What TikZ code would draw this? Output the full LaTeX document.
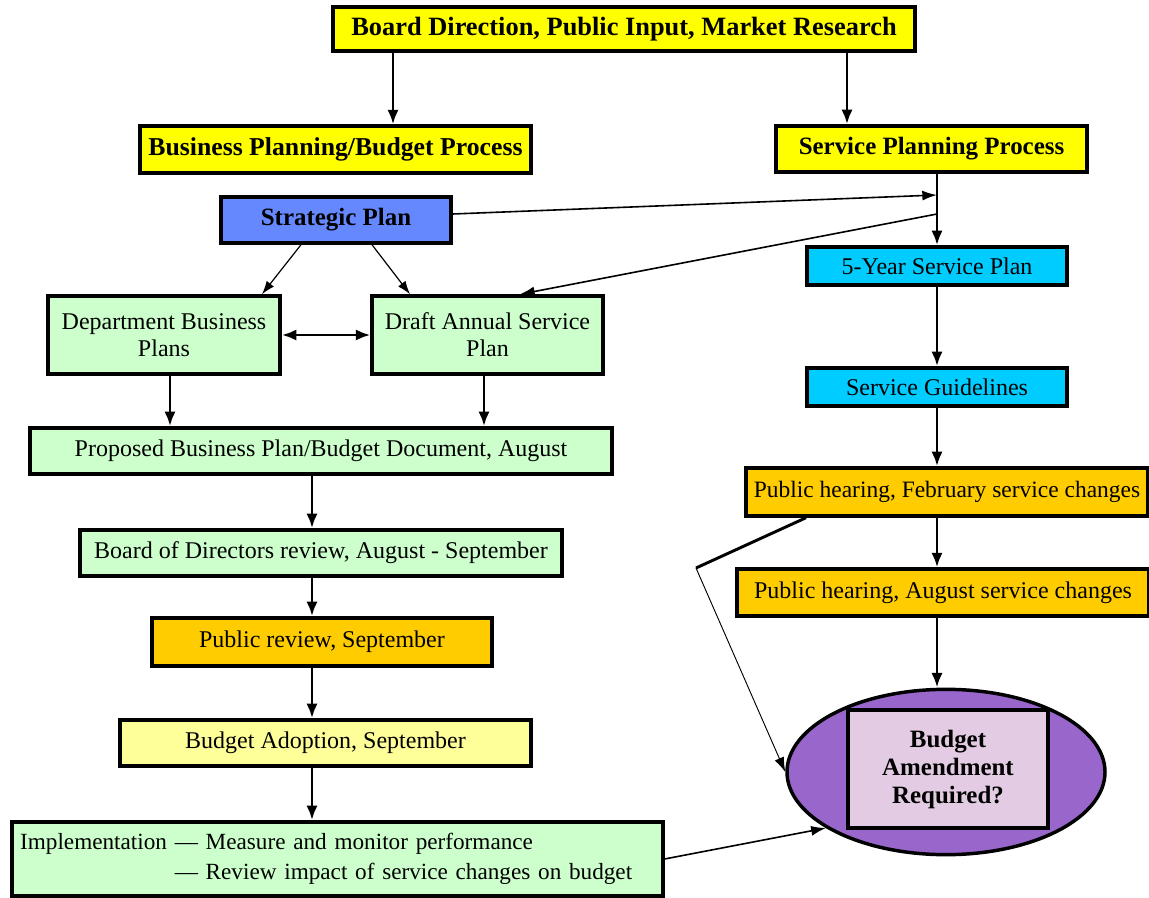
\documentclass[tikz,border=0pt]{standalone}
\usepackage{fontspec}
\setmainfont{Liberation Serif}
\usetikzlibrary{arrows.meta,shapes.geometric}
\definecolor{cyel}{HTML}{FFFF00}
\definecolor{cblue}{HTML}{6688FF}
\definecolor{cgreen}{HTML}{CCFFCC}
\definecolor{ccyan}{HTML}{00CCFF}
\definecolor{corange}{HTML}{FFCC00}
\definecolor{clyel}{HTML}{FFFF99}
\definecolor{cpurple}{HTML}{9966CC}
\definecolor{clilac}{HTML}{E3CCE3}
\tikzset{
  box/.style={draw, line width=2.6pt, inner sep=0pt, align=center, font=\fontsize{18}{20}\selectfont},
  bbox/.style={box, font=\fontsize{18.7}{20}\selectfont\bfseries},
  arr/.style={line width=2.2pt, -{Latex[length=11pt,width=8.5pt]}},
  tarr/.style={line width=1.2pt, -{Latex[length=11pt,width=7.5pt]}},
  harr/.style={line width=0.7pt, -{Latex[length=11pt,width=7.5pt]}},
}
\begin{document}
\begin{tikzpicture}[x=0.75pt,y=-0.75pt]
\useasboundingbox (0,0) rectangle (1149,898);
% nodes
\node[bbox, fill=cyel, minimum width=436.5pt, minimum height=33pt, font=\fontsize{19.8}{21}\selectfont\bfseries] (top) at (624,29) {Board Direction, Public Input, Market Research};
\node[bbox, fill=cyel, minimum width=293pt, minimum height=35pt, font=\fontsize{19.3}{21}\selectfont\bfseries] (bus) at (335.5,149.5) {Business Planning/Budget Process};
\node[bbox, fill=cyel, minimum width=233pt, minimum height=34.5pt] (svc) at (931.5,149) {Service Planning Process};
\node[bbox, fill=cblue, minimum width=172.5pt, minimum height=34.5pt] (strat) at (336,220) {Strategic Plan};
\node[box, fill=ccyan, minimum width=195pt, minimum height=28.5pt] (five) at (937,266) {5-Year Service Plan};
\node[box, fill=cgreen, minimum width=174pt, minimum height=58.5pt] (dept) at (164,335) {Department Business\\Plans};
\node[box, fill=cgreen, minimum width=173pt, minimum height=58.5pt] (draft) at (487.5,335) {Draft Annual Service\\Plan};
\node[box, fill=cgreen, minimum width=436.5pt, minimum height=34.5pt] (prop) at (321,451) {Proposed Business Plan/Budget Document, August};
\node[box, fill=ccyan, minimum width=195pt, minimum height=28.5pt] (guide) at (937,387) {Service Guidelines};
\node[box, fill=corange, minimum width=301.5pt, minimum height=36pt, font=\fontsize{17.6}{20}\selectfont] (feb) at (947,492) {Public hearing, February service changes};
\node[box, fill=cgreen, minimum width=361.5pt, minimum height=34.5pt] (board) at (321,553) {Board of Directors review, August - September};
\node[box, fill=corange, minimum width=309pt, minimum height=35pt] (aug) at (943,592.5) {Public hearing, August service changes};
\node[box, fill=corange, minimum width=255pt, minimum height=36pt] (prev) at (322,642) {Public review, September};
\node[box, fill=clyel, minimum width=308pt, minimum height=34.5pt] (adopt) at (325.5,743) {Budget Adoption, September};
\node[box, fill=cgreen, text width=476pt, inner xsep=6pt, minimum height=55.5pt, align=left, font=\fontsize{17.4}{20}\selectfont] (impl) at (337.5,859) {\begin{tabular}{@{}l@{ }l@{}}Implementation & --- Measure and monitor performance\\[2pt] & --- Review impact of service changes on budget\end{tabular}};
\node[ellipse, draw, line width=2.6pt, fill=cpurple, minimum width=238.5pt, minimum height=124pt, inner sep=0pt] (ell) at (946,772) {};
\node[bbox, fill=clilac, minimum width=150pt, minimum height=88.5pt, font=\fontsize{18.7}{21}\selectfont\bfseries] (amend) at (948,769) {Budget\\Amendment\\Required?};
% helper coordinates
\coordinate (x393) at (393,0);
\coordinate (x847) at (847,0);
\coordinate (x937) at (937,0);
\coordinate (x170) at (170,0);
\coordinate (x484) at (484,0);
\coordinate (x312) at (312,0);
\coordinate (j1) at (937,195);
\coordinate (j2) at (937,214);
\coordinate (x520) at (520,0);
\coordinate (x301) at (301,0);
\coordinate (x262) at (262,0);
\coordinate (x372) at (372,0);
\coordinate (x410) at (410,0);
\coordinate (x806) at (806,0);
\coordinate (bend) at (696,568);
% connectors
\draw[arr] (top.south -| x393) -- (bus.north -| x393);
\draw[arr] (top.south -| x847) -- (svc.north -| x847);
\draw[arr] (svc.south -| x937) -- (five.north -| x937);
\draw[tarr] (strat.east) ++(0,-6) -- (j1);
\draw[tarr] (j2) -- (draft.north -| x520);
\draw[line width=0.9pt, -{Latex[length=10pt,width=7pt]}] (strat.south -| x301) -- (dept.north -| x262);
\draw[line width=0.9pt, -{Latex[length=10pt,width=7pt]}] (strat.south -| x372) -- (draft.north -| x410);
\draw[line width=2.2pt, {Latex[length=11pt,width=8.5pt]}-{Latex[length=11pt,width=8.5pt]}] (dept.east) -- (draft.west);
\draw[arr] (dept.south -| x170) -- (prop.north -| x170);
\draw[arr] (draft.south -| x484) -- (prop.north -| x484);
\draw[arr] (prop.south -| x312) -- (board.north -| x312);
\draw[arr] (board.south -| x312) -- (prev.north -| x312);
\draw[arr] (prev.south -| x312) -- (adopt.north -| x312);
\draw[arr] (adopt.south -| x312) -- (impl.north -| x312);
\draw[arr] (five.south -| x937) -- (guide.north -| x937);
\draw[arr] (guide.south -| x937) -- (feb.north -| x937);
\draw[arr] (feb.south -| x937) -- (aug.north -| x937);
\draw[arr] (aug.south -| x937) -- (ell.north -| x937);
\draw[line width=2.2pt] (feb.south -| x806) -- (bend);
\draw[harr] (bend) -- (ell.west);
\draw[tarr] (impl.east) -- (ell.-155);
\end{tikzpicture}
\end{document}
